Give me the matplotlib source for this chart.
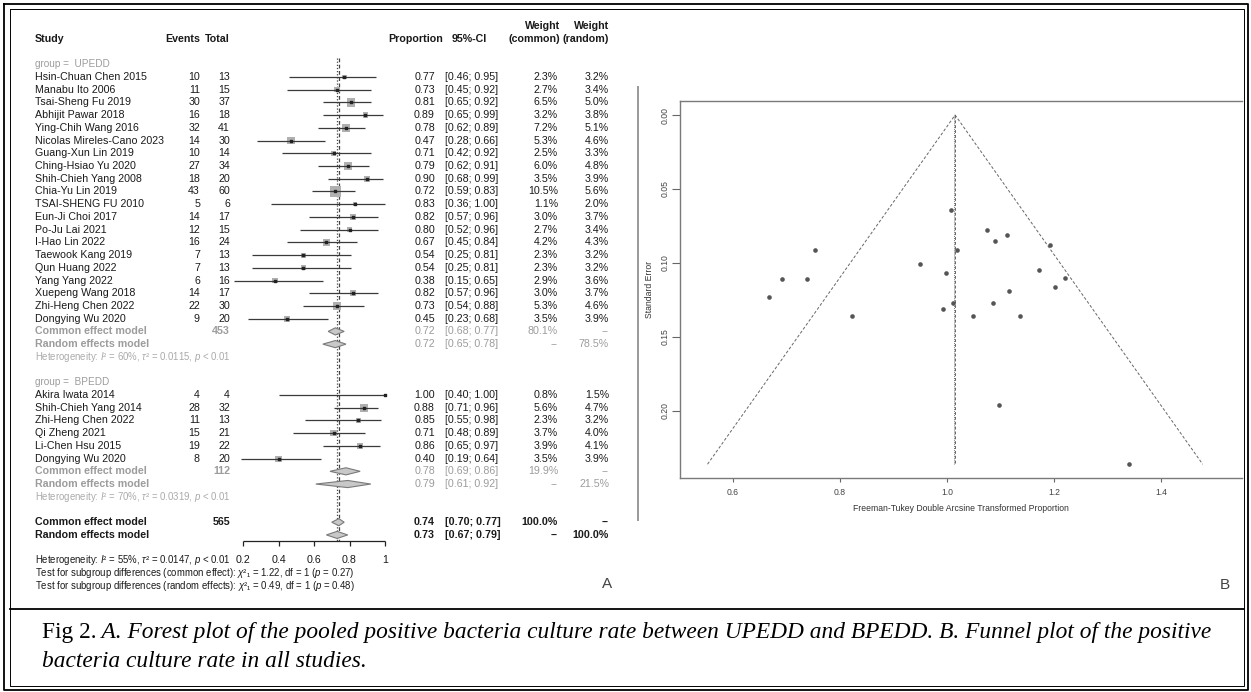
import matplotlib
matplotlib.use("Agg")
import matplotlib.pyplot as plt
import matplotlib.transforms as mtransforms

plt.rcParams['font.family'] = ['Liberation Sans', 'DejaVu Sans']
plt.rcParams['mathtext.fontset'] = 'custom'
plt.rcParams['mathtext.rm'] = 'Liberation Sans'
plt.rcParams['mathtext.it'] = 'Liberation Sans:italic'

# ---- forest plot data (panel A) ----
upedd_study = ["Hsin-Chuan Chen 2015", "Manabu Ito 2006", "Tsai-Sheng Fu 2019",
               "Abhijit Pawar 2018", "Ying-Chih Wang 2016", "Nicolas Mireles-Cano 2023",
               "Guang-Xun Lin 2019", "Ching-Hsiao Yu 2020", "Shih-Chieh Yang 2008",
               "Chia-Yu Lin 2019", "TSAI-SHENG FU 2010", "Eun-Ji Choi 2017",
               "Po-Ju Lai 2021", "I-Hao Lin 2022", "Taewook Kang 2019", "Qun Huang 2022",
               "Yang Yang 2022", "Xuepeng Wang 2018", "Zhi-Heng Chen 2022", "Dongying Wu 2020"]
upedd_events = [10, 11, 30, 16, 32, 14, 10, 27, 18, 43, 5, 14, 12, 16, 7, 7, 6, 14, 22, 9]
upedd_total = [13, 15, 37, 18, 41, 30, 14, 34, 20, 60, 6, 17, 15, 24, 13, 13, 16, 17, 30, 20]
upedd_prop = [0.77, 0.73, 0.81, 0.89, 0.78, 0.47, 0.71, 0.79, 0.90, 0.72,
              0.83, 0.82, 0.80, 0.67, 0.54, 0.54, 0.38, 0.82, 0.73, 0.45]
upedd_lower = [0.46, 0.45, 0.65, 0.65, 0.62, 0.28, 0.42, 0.62, 0.68, 0.59,
               0.36, 0.57, 0.52, 0.45, 0.25, 0.25, 0.15, 0.57, 0.54, 0.23]
upedd_upper = [0.95, 0.92, 0.92, 0.99, 0.89, 0.66, 0.92, 0.91, 0.99, 0.83,
               1.00, 0.96, 0.96, 0.84, 0.81, 0.81, 0.65, 0.96, 0.88, 0.68]
upedd_w_common = [2.3, 2.7, 6.5, 3.2, 7.2, 5.3, 2.5, 6.0, 3.5, 10.5,
                  1.1, 3.0, 2.7, 4.2, 2.3, 2.3, 2.9, 3.0, 5.3, 3.5]
upedd_w_random = [3.2, 3.4, 5.0, 3.8, 5.1, 4.6, 3.3, 4.8, 3.9, 5.6,
                  2.0, 3.7, 3.4, 4.3, 3.2, 3.2, 3.6, 3.7, 4.6, 3.9]

bpedd_study = ["Akira Iwata 2014", "Shih-Chieh Yang 2014", "Zhi-Heng Chen 2022",
               "Qi Zheng 2021", "Li-Chen Hsu 2015", "Dongying Wu 2020"]
bpedd_events = [4, 28, 11, 15, 19, 8]
bpedd_total = [4, 32, 13, 21, 22, 20]
bpedd_prop = [1.00, 0.88, 0.85, 0.71, 0.86, 0.40]
bpedd_lower = [0.40, 0.71, 0.55, 0.48, 0.65, 0.19]
bpedd_upper = [1.00, 0.96, 0.98, 0.89, 0.97, 0.64]
bpedd_w_common = [0.8, 5.6, 2.3, 3.7, 3.9, 3.5]
bpedd_w_random = [1.5, 4.7, 3.2, 4.0, 4.1, 3.9]

# pooled estimates: (estimate, lower, upper)
upedd_common = (0.72, 0.68, 0.77)
upedd_random = (0.72, 0.65, 0.78)
bpedd_common = (0.78, 0.69, 0.86)
bpedd_random = (0.79, 0.61, 0.92)
overall_common = (0.74, 0.70, 0.77)
overall_random = (0.73, 0.67, 0.79)
upedd_n, bpedd_n, overall_n = 453, 112, 565

forest_ticks = [0.2, 0.4, 0.6, 0.8, 1.0]
forest_ticklabels = ["0.2", "0.4", "0.6", "0.8", "1"]

# ---- funnel plot data (panel B) ----
ft_value = [1.007, 1.075, 1.112, 1.090, 1.193, 1.019, 0.950, 0.998, 1.172, 1.221,
            1.202, 1.116, 1.011, 1.086, 0.993, 1.049, 1.136, 0.753, 0.692, 0.738,
            0.667, 0.822, 1.097, 1.340]
ft_se = [0.064, 0.078, 0.081, 0.085, 0.088, 0.091, 0.101, 0.107, 0.105, 0.110,
         0.116, 0.119, 0.127, 0.127, 0.131, 0.136, 0.136, 0.091, 0.111, 0.111,
         0.123, 0.136, 0.196, 0.236]
ft_pooled = 1.015
ft_se_max = 0.236
funnel_xticks = [0.6, 0.8, 1.0, 1.2, 1.4]
funnel_yticks = [0.00, 0.05, 0.10, 0.15, 0.20]

W, H = 1251, 692
fig = plt.figure(figsize=(W / 100, H / 100), dpi=100)

# background axes in pixel units for frames and free text
bg = fig.add_axes([0, 0, 1, 1])
bg.set_xlim(0, W)
bg.set_ylim(H, 0)
bg.axis('off')

# forest axes: x in proportion units, y in row units
ROW0, ROWH = 77, 12.72
axf = fig.add_axes([243 / W, 0, (385 - 243) / W, 1])
axf.set_xlim(0.2, 1.0)
axf.set_ylim((H - ROW0) / ROWH, -ROW0 / ROWH)
axf.axis('off')
tr = mtransforms.blended_transform_factory(bg.transData, axf.transData)

FS = 7.7
SMALL = 6.9
GRAY = '#9c9c9c'
BLACK = '#1a1a1a'

# column x positions (pixels)
X_NAME, X_EV, X_TOT, X_PROP, X_CI, X_WC, X_WR = 35, 200, 230, 435, 445, 558, 609


def row_text(k, cells, color=BLACK, weight='normal', fs=FS):
    name, ev, tot, prop, ci, wc, wr = cells
    kw = dict(transform=tr, va='center', color=color, fontsize=fs, fontweight=weight)
    bg.text(X_NAME, k, name, ha='left', **kw)
    bg.text(X_EV, k, ev, ha='right', **kw)
    bg.text(X_TOT, k, tot, ha='right', **kw)
    bg.text(X_PROP, k, prop, ha='right', **kw)
    bg.text(X_CI, k, ci, ha='left', **kw)
    bg.text(X_WC, k, wc, ha='right', **kw)
    bg.text(X_WR, k, wr, ha='right', **kw)


def ci_str(lo, hi):
    return f"[{lo:.2f}; {hi:.2f}]"


def draw_studies(k0, names, ev, tot, prop, lo, hi, wc, wr):
    ks = [k0 + i for i in range(len(names))]
    axf.scatter(prop, ks, s=[5.5 * w for w in wc], marker='s', color='#b0b0b0',
                linewidths=0, zorder=2, clip_on=False)
    axf.hlines(ks, lo, hi, color='#3a3a3a', lw=0.9, zorder=3, clip_on=False)
    axf.scatter(prop, ks, s=2.5, marker='s', color='#222222', zorder=4, clip_on=False)
    for i, k in enumerate(ks):
        row_text(k, (names[i], str(ev[i]), str(tot[i]), f"{prop[i]:.2f}",
                     ci_str(lo[i], hi[i]), f"{wc[i]:.1f}%", f"{wr[i]:.1f}%"))


def diamond(k, est, h=0.28):
    e, lo, hi = est
    axf.fill([lo, e, hi, e], [k, k - h, k, k + h], facecolor='#c8c8c8',
             edgecolor='#7a7a7a', lw=0.8, zorder=3, clip_on=False)


# headers
hdr = dict(transform=tr, va='center', fontsize=FS, fontweight='bold', color=BLACK)
bg.text(X_NAME, -3, "Study", ha='left', **hdr)
bg.text(X_EV, -3, "Events", ha='right', **hdr)
bg.text(X_TOT, -3, "Total", ha='right', **hdr)
bg.text(443, -3, "Proportion", ha='right', **hdr)
bg.text(487, -3, "95%-CI", ha='right', **hdr)
bg.text(560, -4, "Weight", ha='right', **hdr)
bg.text(560, -3, "(common)", ha='right', **hdr)
bg.text(X_WR, -4, "Weight", ha='right', **hdr)
bg.text(X_WR, -3, "(random)", ha='right', **hdr)

# UPEDD subgroup
bg.text(X_NAME, -1, "group =  UPEDD", transform=tr, va='center', fontsize=7.2, color=GRAY)
draw_studies(0, upedd_study, upedd_events, upedd_total, upedd_prop,
             upedd_lower, upedd_upper, upedd_w_common, upedd_w_random)
diamond(20, upedd_common)
diamond(21, upedd_random)
row_text(20, ("Common effect model", "", str(upedd_n), "", "", "", ""), GRAY, 'bold')
row_text(21, ("Random effects model", "", "", "", "", "", ""), GRAY, 'bold')
row_text(20, ("", "", "", f"{upedd_common[0]:.2f}", ci_str(*upedd_common[1:]), "80.1%", "--"), GRAY)
row_text(21, ("", "", "", f"{upedd_random[0]:.2f}", ci_str(*upedd_random[1:]), "--", "78.5%"), GRAY)
bg.text(X_NAME, 22, r"Heterogeneity: $I$² = 60%, $\tau$² = 0.0115, $p$ < 0.01",
        transform=tr, va='center', fontsize=SMALL, color='#aaaaaa')

# BPEDD subgroup
bg.text(X_NAME, 24, "group =  BPEDD", transform=tr, va='center', fontsize=7.2, color=GRAY)
draw_studies(25, bpedd_study, bpedd_events, bpedd_total, bpedd_prop,
             bpedd_lower, bpedd_upper, bpedd_w_common, bpedd_w_random)
diamond(31, bpedd_common)
diamond(32, bpedd_random)
row_text(31, ("Common effect model", "", str(bpedd_n), "", "", "", ""), GRAY, 'bold')
row_text(32, ("Random effects model", "", "", "", "", "", ""), GRAY, 'bold')
row_text(31, ("", "", "", f"{bpedd_common[0]:.2f}", ci_str(*bpedd_common[1:]), "19.9%", "--"), GRAY)
row_text(32, ("", "", "", f"{bpedd_random[0]:.2f}", ci_str(*bpedd_random[1:]), "--", "21.5%"), GRAY)
bg.text(X_NAME, 33, r"Heterogeneity: $I$² = 70%, $\tau$² = 0.0319, $p$ < 0.01",
        transform=tr, va='center', fontsize=SMALL, color='#aaaaaa')

# overall
diamond(35, overall_common)
diamond(36, overall_random)
row_text(35, ("Common effect model", "", str(overall_n), f"{overall_common[0]:.2f}",
              ci_str(*overall_common[1:]), "100.0%", "--"), BLACK, 'bold')
row_text(36, ("Random effects model", "", "", f"{overall_random[0]:.2f}",
              ci_str(*overall_random[1:]), "--", "100.0%"), BLACK, 'bold')

# reference lines
K_AXIS = (541 - ROW0) / ROWH
axf.vlines(overall_common[0], -1.5, K_AXIS, color='#444444', lw=0.9,
           linestyles=(0, (3, 2)), zorder=1, clip_on=False)
axf.vlines(overall_random[0], -1.5, K_AXIS, color='#444444', lw=0.9,
           linestyles=(0, (1, 1.5)), zorder=1, clip_on=False)

# forest x axis
axf.hlines(K_AXIS, forest_ticks[0], forest_ticks[-1], color='#222222', lw=0.9, clip_on=False)
axf.vlines(forest_ticks, K_AXIS, K_AXIS + 0.4, color='#222222', lw=0.9, clip_on=False)
for t, lab in zip(forest_ticks, forest_ticklabels):
    axf.text(t, 38, lab, ha='center', va='center', fontsize=FS, color=BLACK, clip_on=False)

bg.text(X_NAME, 38, r"Heterogeneity: $I$² = 55%, $\tau$² = 0.0147, $p$ < 0.01",
        transform=tr, va='center', fontsize=SMALL, color=BLACK)
bg.text(X_NAME, 39, r"Test for subgroup differences (common effect): $\chi$²₁ = 1.22, df = 1 ($p$ = 0.27)",
        transform=tr, va='center', fontsize=SMALL, color=BLACK)
bg.text(X_NAME, 40, r"Test for subgroup differences (random effects): $\chi$²₁ = 0.49, df = 1 ($p$ = 0.48)",
        transform=tr, va='center', fontsize=SMALL, color=BLACK)

# ---- funnel plot ----
axb = fig.add_axes([680 / W, 1 - 478 / H, (1242 - 680) / W, (478 - 101) / H])
axb.set_xlim(0.501, 1.551)
axb.set_ylim(0.2453, -0.0095)
axb.plot([ft_pooled - 1.96 * ft_se_max, ft_pooled, ft_pooled + 1.96 * ft_se_max],
         [ft_se_max, 0, ft_se_max], color='#666666', lw=0.7, ls=(0, (3, 2)))
axb.vlines(ft_pooled, 0, ft_se_max, color='#666666', lw=0.7, linestyles=(0, (3, 2)))
axb.vlines(ft_pooled - 0.003, 0, ft_se_max, color='#777777', lw=0.7, linestyles=(0, (1, 1)))
axb.scatter(ft_value, ft_se, s=11, color='#555555', linewidths=0, zorder=3)
axb.set_xticks(funnel_xticks)
axb.set_xticklabels([f"{v:.1f}" for v in funnel_xticks])
axb.set_yticks(funnel_yticks)
axb.set_yticklabels([f"{v:.2f}" for v in funnel_yticks], rotation=90, va='center')
axb.tick_params(axis='x', length=3, width=0.8, color='#666666', labelsize=6.2,
                labelcolor='#444444', pad=4)
axb.tick_params(axis='y', length=5.5, width=0.8, color='#666666', labelsize=6.2,
                labelcolor='#444444', pad=2)
for side in ['left', 'top', 'bottom']:
    axb.spines[side].set_color('#7a7a7a')
    axb.spines[side].set_linewidth(1.0)
axb.spines['right'].set_visible(False)
axb.set_xlabel("Freeman-Tukey Double Arcsine Transformed Proportion",
               fontsize=6.2, color='#333333', labelpad=5)
axb.set_ylabel("Standard Error", fontsize=6.2, color='#333333', labelpad=5)

# ---- frames, panel letters and caption ----
bg.plot([638, 638], [87, 520], color='#999999', lw=1.4)
bg.text(607, 584, "A", fontsize=11, color='#444444', ha='center', va='center')
bg.text(1225, 585, "B", fontsize=11, color='#444444', ha='center', va='center')
bg.plot([4, 1248, 1248, 4, 4], [4, 4, 690, 690, 4], color='black', lw=1.3)
bg.plot([9.5, 1244, 1244, 9.5, 9.5], [9, 9, 686, 686, 9], color='black', lw=0.7)
bg.plot([9.5, 1244], [609, 609], color='black', lw=1.3)

CAP = dict(fontfamily=['Liberation Serif', 'DejaVu Serif'], fontsize=16.8, color='black')
t1 = bg.text(42, 638, "Fig 2.", va='baseline', ha='left', **CAP)
bg.annotate(" A. Forest plot of the pooled positive bacteria culture rate between UPEDD and BPEDD. B. Funnel plot of the positive",
            xy=(1, 0), xycoords=t1, va='bottom', ha='left', fontstyle='italic', **CAP)
bg.text(42, 667, "bacteria culture rate in all studies.", va='baseline', ha='left',
        fontstyle='italic', **CAP)

fig.savefig("out.png", dpi=100)
